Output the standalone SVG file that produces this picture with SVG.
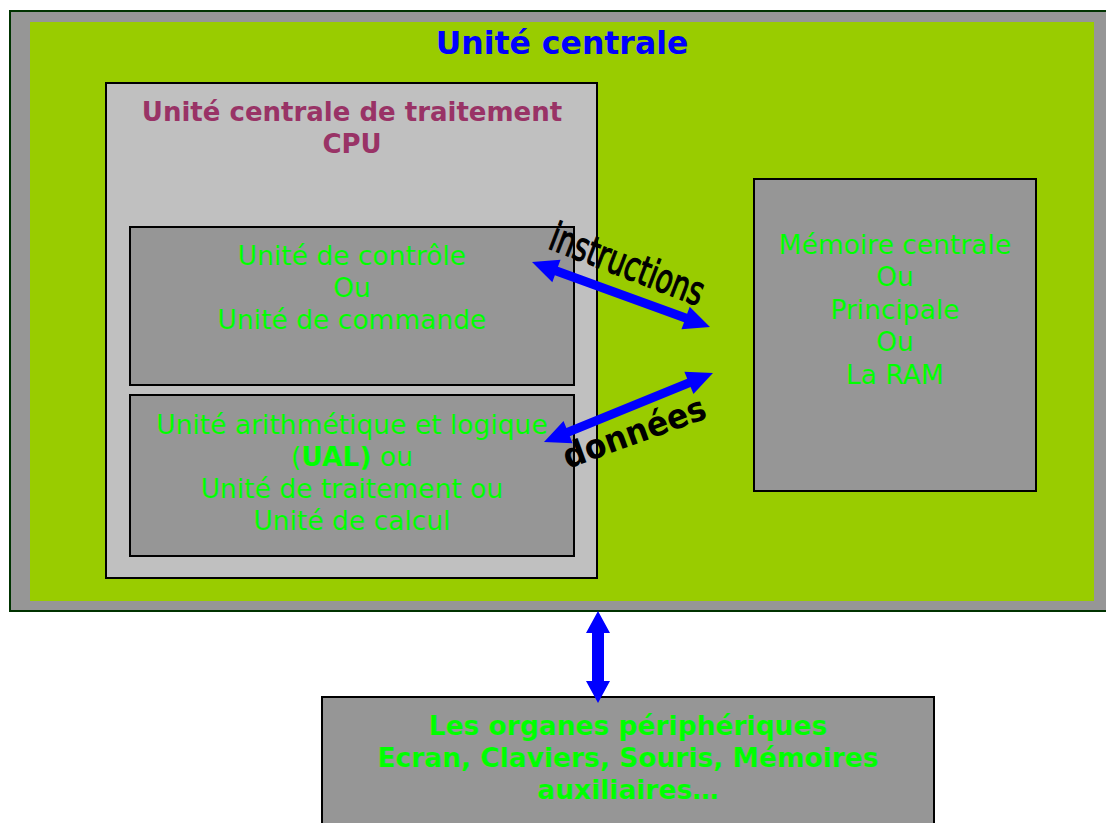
<svg xmlns="http://www.w3.org/2000/svg" width="1106" height="823" viewBox="0 0 1106 823">
<style>
.box{fill:#969696;stroke:#000;stroke-width:2}
.g{font-family:"DejaVu Sans",Verdana,sans-serif;font-size:26.5px;fill:#00ff00;text-anchor:middle}
.gb{font-family:"DejaVu Sans",Verdana,sans-serif;font-size:26.5px;font-weight:bold;fill:#00ff00;text-anchor:middle}
.arr{fill:#0000ff}
.lbl{font-family:"DejaVu Sans Condensed","DejaVu Sans",sans-serif;fill:#000;text-anchor:middle}
</style>
<rect width="1106" height="823" fill="#fff"/>
<g id="unite-centrale">
<rect x="10" y="11" width="1110" height="600" fill="#969696" stroke="#003300" stroke-width="2"/>
<rect x="30" y="22" width="1064" height="579" fill="#99cc00"/>
<text x="562" y="54" font-family="DejaVu Sans,Verdana,sans-serif" font-size="31.5" font-weight="bold" fill="#0000ff" text-anchor="middle">Unité centrale</text>
</g>
<g id="cpu">
<rect x="106" y="83" width="491" height="495" fill="#c0c0c0" stroke="#000" stroke-width="2"/>
<text font-family="DejaVu Sans,Verdana,sans-serif" font-size="26" font-weight="bold" fill="#993366" text-anchor="middle"><tspan x="352" y="121">Unité centrale de traitement</tspan><tspan x="352" y="153">CPU</tspan></text>
</g>
<g id="controle">
<rect class="box" x="130" y="227" width="444" height="158"/>
<text class="g"><tspan x="352" y="265">Unité de contrôle</tspan><tspan x="352" y="297">Ou</tspan><tspan x="352" y="329">Unité de commande</tspan></text>
</g>
<g id="ual">
<rect class="box" x="130" y="395" width="444" height="161"/>
<text class="g"><tspan x="352" y="434">Unité arithmétique et logique</tspan><tspan x="352" y="466">(<tspan font-weight="bold">UAL)</tspan> ou</tspan><tspan x="352" y="498">Unité de traitement ou</tspan><tspan x="352" y="530">Unité de calcul</tspan></text>
</g>
<g id="memoire">
<rect class="box" x="754" y="179" width="282" height="312"/>
<text class="g"><tspan x="895" y="254">Mémoire centrale</tspan><tspan x="895" y="286">Ou</tspan><tspan x="895" y="319">Principale</tspan><tspan x="895" y="351">Ou</tspan><tspan x="895" y="384">La RAM</tspan></text>
</g>
<g id="peripheriques">
<rect class="box" x="322" y="697" width="612" height="140"/>
<text class="gb"><tspan x="628" y="735">Les organes périphériques</tspan><tspan x="628" y="767">Ecran, Claviers, Souris, Mémoires</tspan><tspan x="628" y="799">auxiliaires…</tspan></text>
</g>
<g id="connecteurs">
<polygon class="arr" transform="translate(532,262) rotate(20.06)" points="0,0 26,-12 26,-4.5 163.5,-4.5 163.5,-12 189.5,0 163.5,12 163.5,4.5 26,4.5 26,12"/>
<polygon class="arr" transform="translate(544,442) rotate(-22.2)" points="0,0 26,-12 26,-4.5 156.5,-4.5 156.5,-12 182.5,0 156.5,12 156.5,4.5 26,4.5 26,12"/>
<polygon class="arr" transform="translate(598,611) rotate(90)" points="0,0 22,-12 22,-6 70,-6 70,-12 92,0 70,12 70,6 22,6 22,12"/>
<text class="lbl" transform="translate(627,265) rotate(21)" y="13" font-size="40" stroke="#000" stroke-width="1.2" textLength="162" lengthAdjust="spacingAndGlyphs">instructions</text>
<text class="lbl" transform="translate(634,432) rotate(-20)" y="12" font-size="34" font-weight="bold" textLength="150" lengthAdjust="spacingAndGlyphs">données</text>
</g>
</svg>
